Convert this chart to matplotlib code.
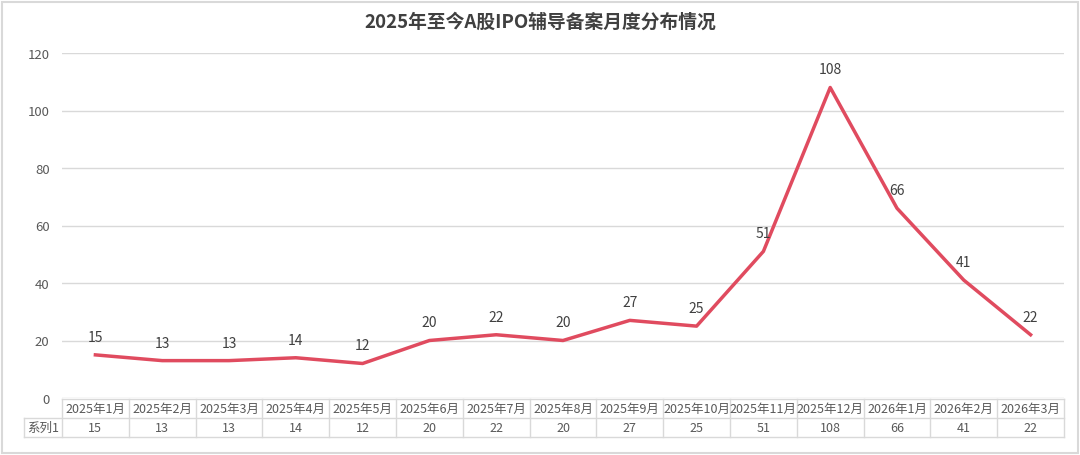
import matplotlib.pyplot as plt
from matplotlib.patches import Rectangle

plt.rcParams['font.family'] = ['Noto Sans CJK SC', 'DejaVu Sans']

# data
months = ["2025年1月", "2025年2月", "2025年3月", "2025年4月", "2025年5月",
          "2025年6月", "2025年7月", "2025年8月", "2025年9月", "2025年10月",
          "2025年11月", "2025年12月", "2026年1月", "2026年2月", "2026年3月"]
counts = [15, 13, 13, 14, 12, 20, 22, 20, 27, 25, 51, 108, 66, 41, 22]
series_name = "系列1"
title = "2025年至今A股IPO辅导备案月度分布情况"

line_color = "#E04B5F"
grid_color = "#D9D9D9"
text_color = "#595959"

W, H = 1080, 456
fig = plt.figure(figsize=(W / 100, H / 100), dpi=100)

# plot area (pixels -> figure fraction)
left_px, right_px, top_px, bottom_px = 62, 1064, 54, 399
ax = fig.add_axes([left_px / W, 1 - bottom_px / H,
                   (right_px - left_px) / W, (bottom_px - top_px) / H])

x = list(range(len(months)))
ax.plot(x, counts, color=line_color, lw=2.5, solid_joinstyle="round")
for xi, v in zip(x, counts):
    ax.annotate(str(v), (xi, v), xytext=(0, 8), textcoords="offset points",
                ha="center", va="bottom", fontsize=10, color="#404040")

ax.set_xlim(-0.5, len(months) - 0.5)
ax.set_ylim(0, 120)
ax.set_yticks(range(0, 121, 20))
ax.set_xticks([])
ax.yaxis.grid(True, color=grid_color, lw=1)
ax.set_axisbelow(True)
for s in ax.spines.values():
    s.set_visible(False)
ax.tick_params(axis="y", length=0, pad=9, labelsize=9.5, labelcolor=text_color)

fig.text(0.5, 1 - 22 / H, title, ha="center", va="center",
         fontsize=13.5, fontweight="bold", color="#404040")

# data table below the axis
tab_top, tab_bottom = 400, 438
tax = fig.add_axes([left_px / W, 1 - tab_bottom / H,
                    (right_px - left_px) / W, (tab_bottom - tab_top) / H])
tax.set_xlim(-0.5, len(months) - 0.5)
tax.set_ylim(0, 2)
tax.axis("off")
label_w = (left_px - 24) / ((right_px - left_px) / len(months))
lc = dict(color=grid_color, lw=1, clip_on=False)
tax.plot([-0.5, len(months) - 0.5], [2, 2], **lc)
tax.plot([-0.5 - label_w, len(months) - 0.5], [1, 1], **lc)
tax.plot([-0.5 - label_w, len(months) - 0.5], [0, 0], **lc)
tax.plot([-0.5 - label_w, -0.5 - label_w], [0, 1], **lc)
for i in range(len(months) + 1):
    tax.plot([i - 0.5, i - 0.5], [0, 2], **lc)
for i, (m, v) in enumerate(zip(months, counts)):
    tax.text(i, 1.5, m, ha="center", va="center", fontsize=9, color=text_color)
    tax.text(i, 0.5, str(v), ha="center", va="center", fontsize=9, color=text_color)
tax.text(-0.5 - label_w / 2, 0.5, series_name, ha="center", va="center",
         fontsize=9, color=text_color)

# outer border of the chart area
fig.patches.append(Rectangle((0.002, 0.004), 0.996, 0.99, transform=fig.transFigure,
                             fill=False, edgecolor=grid_color, lw=1.5))

fig.savefig("out.png", dpi=100, facecolor="white")
